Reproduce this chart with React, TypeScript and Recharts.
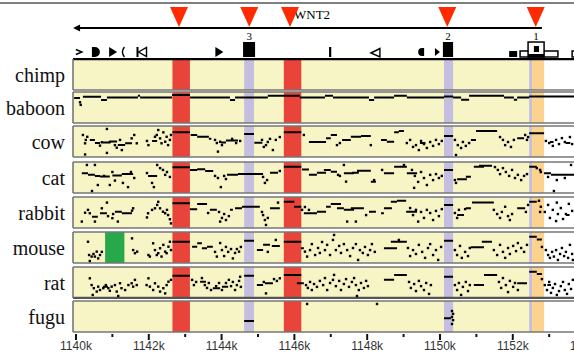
import React from 'react';
import { ComposedChart, XAxis, YAxis, Scatter, Line, ReferenceArea, ReferenceLine } from 'recharts';

// ===================== DATA =====================
const TRACK_NAMES = ['chimp', 'baboon', 'cow', 'cat', 'rabbit', 'mouse', 'rat', 'fugu'];

const GENE_NAME = 'WNT2';
const GENE_START = 1139.92;
const GENE_END = 1152.8;
const GENE_LABEL_X = 1145.99;

const ALIGNED_REGION: [number, number] = [1139.92, 1152.86];

const MUTATION_SITES = [1142.83, 1144.76, 1145.88, 1150.2, 1152.63];

const BANDS = [
  { x1: 1142.65, x2: 1143.13, kind: 'red' },
  { x1: 1144.62, x2: 1144.89, kind: 'lav' },
  { x1: 1145.71, x2: 1146.19, kind: 'red' },
  { x1: 1150.11, x2: 1150.36, kind: 'lav' },
  { x1: 1152.45, x2: 1152.53, kind: 'lav' },
  { x1: 1152.53, x2: 1152.86, kind: 'orange' },
];
const MOUSE_BAND = { x1: 1140.8, x2: 1141.33, kind: 'green' };

const EXON_LABELS = [
  { x: 1144.76, label: '3' },
  { x: 1150.22, label: '2' },
  { x: 1152.64, label: '1' },
];
const EXON_BOXES = [
  { x1: 1144.59, x2: 1144.92, level: 'tall', fill: 'black' },
  { x1: 1150.08, x2: 1150.36, level: 'tall', fill: 'black' },
  { x1: 1151.9, x2: 1152.12, level: 'low', fill: 'black' },
  { x1: 1152.2, x2: 1153.24, level: 'low', fill: 'white' },
  { x1: 1152.42, x2: 1152.86, level: 'tall', fill: 'white' },
  { x1: 1152.42, x2: 1152.86, level: 'base', fill: 'black' },
  { x1: 1152.58, x2: 1152.72, level: 'inner', fill: 'black' },
  { x1: 1153.63, x2: 1153.85, level: 'low', fill: 'white' },
];

const REPEATS = [
  { x: 1140.08, kind: 'chevron' },
  { x: 1140.52, kind: 'halfRight' },
  { x: 1141.02, kind: 'triRight' },
  { x: 1141.29, kind: 'paren' },
  { x: 1141.8, kind: 'barTriLeft' },
  { x: 1143.94, kind: 'triRight' },
  { x: 1146.98, kind: 'bar' },
  { x: 1148.24, kind: 'openTriLeft' },
  { x: 1149.51, kind: 'halfLeft' },
  { x: 1149.93, kind: 'triRightSmall' },
];

const X_TICKS = [1140, 1141, 1142, 1143, 1144, 1145, 1146, 1147, 1148, 1149, 1150, 1151, 1152, 1153, 1154, 1155];

// conservation segments [start kb, end kb, score] and single points [kb, score]
const CHIMP_SEGS: number[][] = [];
const CHIMP_DOTS: number[][] = [];

const BABOON_SEGS = [
  [1139.95, 1140.11, 0.88], [1140.19, 1140.69, 0.93], [1140.69, 1140.85, 0.81], [1140.85, 1141.7, 0.9],
  [1141.7, 1141.76, 0.97], [1141.76, 1142.64, 0.9], [1142.64, 1143.13, 1.0], [1143.13, 1144.23, 0.9],
  [1144.23, 1144.37, 0.81], [1144.37, 1145.27, 0.9], [1145.27, 1146.15, 0.97], [1146.15, 1146.84, 0.9],
  [1146.84, 1147.06, 0.97], [1147.06, 1148.05, 0.9], [1148.05, 1148.19, 0.81], [1148.19, 1148.74, 0.9],
  [1148.74, 1149.09, 0.97], [1149.09, 1150.11, 0.9], [1150.11, 1150.36, 0.94], [1150.36, 1150.58, 0.9],
  [1150.58, 1150.8, 0.82], [1150.8, 1151.76, 0.97], [1151.76, 1152.03, 0.9], [1152.03, 1152.12, 0.82],
  [1152.12, 1152.45, 0.9], [1152.45, 1153.75, 0.94],
];
const BABOON_DOTS = [[1140.11, 0.72], [1140.13, 0.62]];

const COW_SEGS = [
  [1140.38, 1140.52, 0.58], [1140.52, 1140.66, 0.46], [1140.74, 1140.93, 0.48], [1140.93, 1141.13, 0.52],
  [1141.15, 1141.35, 0.38], [1141.35, 1141.54, 0.45], [1142.09, 1142.23, 0.54], [1142.65, 1143.13, 0.87],
  [1143.15, 1143.33, 0.77], [1143.33, 1143.65, 0.7], [1143.65, 1143.72, 0.62], [1143.98, 1144.12, 0.48],
  [1144.12, 1144.45, 0.56], [1144.62, 1144.89, 0.81], [1144.9, 1145.12, 0.47], [1145.71, 1146.19, 0.87],
  [1146.4, 1146.87, 0.5], [1146.87, 1147.0, 0.64], [1147.0, 1147.17, 0.77], [1147.31, 1147.55, 0.58],
  [1147.55, 1147.83, 0.7], [1147.83, 1148.1, 0.73], [1148.38, 1148.54, 0.58], [1148.54, 1148.74, 0.51],
  [1148.74, 1148.87, 0.87], [1148.87, 1149.01, 0.92], [1149.45, 1149.6, 0.46], [1150.11, 1150.36, 0.73],
  [1150.85, 1150.99, 0.58], [1150.99, 1151.57, 0.92], [1152.12, 1152.31, 0.64], [1152.45, 1152.86, 0.84],
  [1153.02, 1153.12, 0.5], [1153.45, 1153.58, 0.46],
];
const COW_DOTS = [
  [1140.19, 0.77], [1140.25, 0.45], [1140.27, 0.58], [1140.31, 0.7], [1140.25, 0.02], [1140.66, 0.36],
  [1140.71, 0.49], [1140.85, 1.0], [1140.85, 0.08], [1140.93, 0.5], [1141.07, 0.38], [1141.12, 0.28],
  [1141.21, 0.58], [1141.26, 0.19], [1141.53, 0.64], [1141.6, 0.77], [1141.67, 0.45],
  [1141.95, 0.54], [1141.99, 0.38], [1142.17, 0.7], [1142.22, 0.77], [1142.26, 0.96], [1142.31, 0.64],
  [1142.35, 0.45], [1142.4, 0.87], [1142.45, 0.51], [1142.49, 0.7], [1142.53, 0.38], [1142.58, 0.58],
  [1142.61, 0.77], [1143.82, 0.58], [1143.87, 0.46], [1143.9, 0.13], [1143.96, 0.51], [1144.01, 0.38],
  [1144.29, 0.62], [1144.4, 0.46], [1144.51, 0.54], [1145.11, 0.58], [1145.16, 0.31], [1145.22, 0.38],
  [1145.27, 0.5], [1145.33, 0.62], [1145.41, 0.19], [1145.49, 0.58], [1145.6, 0.69], [1146.26, 0.77],
  [1147.17, 0.38], [1147.25, 0.46], [1148.1, 0.38], [1149.09, 0.46], [1149.18, 0.58], [1149.26, 0.31],
  [1149.34, 0.38], [1149.42, 0.19], [1149.48, 0.54], [1149.56, 0.42], [1149.64, 0.27], [1149.73, 0.5],
  [1149.81, 0.35], [1149.89, 0.58], [1149.97, 0.42], [1150.05, 0.54], [1150.41, 0.58], [1150.44, 0.0],
  [1150.49, 0.38], [1150.58, 0.27], [1150.63, 0.5], [1150.71, 0.35], [1150.8, 0.46], [1151.65, 0.69],
  [1151.73, 0.58], [1151.79, 0.38], [1151.87, 0.5], [1151.95, 0.31], [1152.03, 0.58], [1152.34, 0.77],
  [1152.39, 0.58], [1152.42, 0.69], [1152.91, 0.54], [1153.0, 0.46], [1153.1, 0.35], [1153.19, 0.58],
  [1153.27, 0.42], [1153.35, 0.65], [1153.43, 0.5], [1153.57, 0.69], [1153.63, 0.42],
];

const CAT_SEGS = [
  [1140.16, 1140.33, 0.68], [1140.33, 1140.52, 0.62], [1140.52, 1140.66, 0.58], [1140.66, 1140.93, 0.56],
  [1141.0, 1141.26, 0.6], [1141.26, 1141.57, 0.65], [1141.98, 1142.23, 0.58], [1142.65, 1143.13, 0.91],
  [1143.13, 1143.33, 0.81], [1143.33, 1143.55, 0.84], [1143.55, 1143.77, 0.77], [1144.15, 1144.45, 0.62],
  [1144.45, 1145.14, 0.65], [1145.33, 1145.55, 0.7], [1145.71, 1146.19, 0.93], [1146.21, 1146.4, 0.83],
  [1146.4, 1146.62, 0.62], [1146.62, 1146.87, 0.7], [1146.81, 1147.0, 0.81], [1147.0, 1147.17, 0.74],
  [1147.36, 1147.64, 0.68], [1147.58, 1147.77, 0.7], [1147.72, 1148.1, 0.78], [1148.1, 1148.24, 0.36],
  [1148.46, 1148.74, 0.68], [1148.74, 1149.09, 0.93], [1149.09, 1149.37, 0.68], [1150.11, 1150.36, 0.81],
  [1150.47, 1150.74, 0.45], [1150.71, 1150.85, 0.55], [1150.93, 1151.21, 0.93], [1151.07, 1151.43, 0.97],
  [1152.45, 1152.66, 0.93], [1152.86, 1153.05, 0.68], [1153.05, 1153.32, 0.62], [1153.32, 1153.75, 0.62],
];
const CAT_DOTS = [
  [1140.3, 1.0], [1140.52, 1.0], [1140.44, 0.0], [1140.6, 0.23], [1140.77, 0.58], [1140.93, 0.23],
  [1141.07, 0.4], [1141.0, 0.73], [1141.29, 0.31], [1141.43, 0.15], [1141.51, 0.73], [1141.6, 0.5],
  [1141.95, 0.69], [1142.23, 1.0], [1142.31, 0.88], [1142.39, 0.81], [1142.45, 0.62], [1142.5, 0.73],
  [1142.58, 0.54], [1142.09, 0.31], [1142.14, 0.15], [1143.82, 0.58], [1143.9, 0.5], [1143.98, 0.15],
  [1144.07, 0.58], [1144.12, 0.46], [1145.14, 0.54], [1145.19, 0.31], [1145.25, 0.42], [1145.6, 0.77],
  [1147.2, 0.62], [1147.25, 0.58], [1147.36, 1.0], [1147.42, 0.36], [1148.19, 0.42], [1148.41, 0.81],
  [1149.01, 1.0], [1149.23, 0.81], [1149.31, 0.58], [1149.4, 0.35], [1149.48, 0.73], [1149.56, 0.5],
  [1149.64, 0.23], [1149.73, 0.62], [1149.81, 0.42], [1149.89, 0.65], [1149.97, 0.5], [1149.29, 0.12],
  [1150.05, 0.58], [1150.41, 0.42], [1150.44, 0.31], [1151.51, 0.92], [1151.59, 0.81], [1151.65, 0.65],
  [1151.73, 0.88], [1151.81, 0.73], [1151.9, 0.58], [1151.98, 0.81], [1152.06, 0.5], [1152.14, 0.62],
  [1152.23, 0.42], [1152.31, 0.58], [1152.39, 0.65], [1152.66, 0.88], [1152.75, 0.81], [1152.77, 0.73],
  [1153.21, 0.42], [1153.13, 0.0], [1153.6, 1.0], [1153.43, 0.5], [1152.97, 0.54],
];

const RABBIT_SEGS = [
  [1140.44, 1140.6, 0.36], [1140.66, 1140.85, 0.49], [1141.07, 1141.26, 0.55], [1141.26, 1141.54, 0.49],
  [1142.65, 1143.13, 0.87], [1143.13, 1143.33, 0.64], [1143.33, 1143.6, 0.85], [1143.68, 1143.87, 0.62],
  [1144.23, 1144.31, 0.62], [1144.37, 1144.56, 0.68], [1144.56, 1145.05, 0.74], [1145.33, 1145.6, 0.68],
  [1145.71, 1146.0, 0.93], [1145.99, 1146.19, 0.74], [1146.26, 1146.62, 0.49], [1146.62, 1146.87, 0.55],
  [1146.87, 1147.0, 0.74], [1147.0, 1147.28, 0.85], [1147.17, 1147.36, 0.68], [1147.36, 1147.64, 0.62],
  [1147.55, 1147.91, 0.68], [1148.05, 1148.24, 0.55], [1148.38, 1148.46, 0.49], [1148.46, 1148.68, 0.68],
  [1148.65, 1148.82, 0.93], [1148.82, 1149.07, 0.97], [1149.07, 1149.37, 0.55], [1150.11, 1150.36, 0.81],
  [1150.47, 1150.66, 0.42], [1150.71, 1150.85, 0.68], [1150.88, 1151.48, 0.9], [1152.12, 1152.34, 0.68],
  [1152.45, 1152.66, 0.93], [1153.46, 1153.56, 0.42],
];
const RABBIT_DOTS = [
  [1140.16, 0.17], [1140.25, 0.51], [1140.33, 0.62], [1140.38, 0.49], [1140.52, 0.17], [1140.71, 0.68],
  [1140.85, 0.9], [1140.88, 0.38], [1141.0, 0.3], [1141.02, 0.46], [1141.15, 0.17], [1141.54, 0.59],
  [1141.57, 0.68], [1141.95, 0.33], [1141.98, 0.49], [1142.09, 0.62], [1142.17, 0.68], [1142.23, 0.81],
  [1142.26, 0.93], [1142.31, 0.68], [1142.39, 0.55], [1142.45, 0.49], [1142.5, 0.62], [1142.53, 0.42],
  [1142.58, 0.26], [1142.61, 0.1], [1143.63, 0.5], [1143.93, 0.54], [1144.01, 0.31], [1143.96, 0.17],
  [1144.07, 0.46], [1144.12, 0.23], [1144.2, 0.38], [1145.11, 0.54], [1145.14, 0.42], [1145.19, 0.23],
  [1145.22, 0.04], [1145.27, 0.31], [1145.55, 0.9], [1146.21, 0.62], [1146.29, 0.73], [1146.4, 0.62],
  [1147.45, 0.17], [1147.69, 0.17], [1147.97, 0.42], [1149.18, 0.69], [1149.26, 0.42], [1149.34, 0.62],
  [1149.4, 0.17], [1149.48, 0.54], [1149.56, 0.31], [1149.64, 0.62], [1149.73, 0.5], [1149.81, 0.23],
  [1149.89, 0.58], [1149.97, 0.38], [1150.05, 0.65], [1150.41, 0.5], [1150.47, 0.31], [1150.52, 0.62],
  [1150.69, 0.65], [1151.48, 0.62], [1151.57, 0.46], [1151.65, 0.31], [1151.7, 0.54], [1151.79, 0.74],
  [1151.87, 0.38], [1151.92, 0.23], [1151.98, 0.46], [1152.36, 0.54], [1152.42, 0.81], [1152.72, 0.97],
  [1152.77, 0.74], [1152.75, 0.54], [1152.88, 0.54], [1152.97, 0.81], [1153.02, 0.31], [1153.1, 0.62],
  [1153.19, 0.19], [1153.24, 0.46], [1153.32, 0.69], [1153.38, 0.27], [1153.46, 0.46], [1153.54, 0.85],
  [1153.63, 0.58], [1153.21, 0.9],
];

const MOUSE_SEGS = [
  [1142.65, 1143.13, 0.74], [1143.19, 1143.33, 0.55], [1143.33, 1143.46, 0.68], [1143.46, 1143.6, 0.49],
  [1143.6, 1143.76, 0.55], [1144.62, 1144.89, 0.78], [1144.97, 1145.14, 0.42], [1145.14, 1145.33, 0.62],
  [1145.38, 1145.6, 0.58], [1145.71, 1146.19, 0.74], [1146.18, 1146.26, 0.49], [1148.46, 1148.82, 0.49],
  [1148.65, 1149.09, 0.74], [1150.11, 1150.36, 0.78], [1150.85, 1151.21, 0.53], [1151.15, 1151.43, 0.74],
  [1152.45, 1152.66, 0.93], [1152.66, 1152.8, 0.83],
];
const MOUSE_DOTS = [
  [1140.33, 0.74], [1140.36, 0.23], [1140.43, 0.17], [1140.48, 0.27], [1140.52, 0.17], [1140.57, 0.36],
  [1140.61, 0.1], [1140.66, 0.23], [1140.38, 0.0], [1140.71, 0.35], [1141.54, 0.87], [1141.57, 0.42],
  [1141.62, 0.3], [1141.68, 0.36], [1141.99, 0.23], [1142.03, 0.17], [1142.12, 0.68], [1142.17, 0.42],
  [1142.22, 0.23], [1142.26, 0.3], [1142.31, 0.49], [1142.35, 0.17], [1142.4, 0.62], [1142.45, 0.36],
  [1142.49, 0.3], [1142.54, 0.55], [1142.58, 0.74], [1142.61, 0.42], [1143.82, 0.35], [1143.87, 0.17],
  [1143.96, 0.69], [1144.01, 0.42], [1144.07, 0.19], [1144.12, 0.54], [1144.18, 0.35], [1144.26, 0.46],
  [1144.31, 0.1], [1144.37, 0.31], [1144.42, 0.46], [1144.48, 0.36], [1144.53, 0.54], [1145.27, 0.35],
  [1145.49, 0.81], [1146.29, 0.36], [1146.35, 0.17], [1146.43, 0.42], [1146.48, 0.65], [1146.57, 0.23],
  [1146.65, 0.5], [1146.7, 0.31], [1146.76, 0.73], [1146.84, 0.42], [1146.9, 0.62], [1146.98, 0.23],
  [1147.06, 0.81], [1147.09, 1.0], [1147.14, 0.42], [1147.23, 0.58], [1147.28, 0.31], [1147.36, 0.65],
  [1147.45, 0.42], [1147.53, 0.19], [1147.61, 0.5], [1147.69, 0.65], [1147.75, 0.04], [1147.8, 0.42],
  [1147.88, 0.31], [1147.94, 0.54], [1148.02, 0.23], [1148.08, 0.42], [1148.13, 0.65], [1148.21, 0.35],
  [1148.87, 0.81], [1149.12, 0.5], [1149.18, 0.19], [1149.26, 0.42], [1149.34, 0.27], [1149.42, 0.62],
  [1149.51, 0.35], [1149.59, 0.12], [1149.67, 0.5], [1149.73, 0.65], [1149.81, 0.23], [1149.89, 0.42],
  [1149.95, 0.04], [1150.03, 0.54], [1150.41, 0.42], [1150.47, 0.23], [1150.55, 0.58], [1150.6, 0.12],
  [1150.69, 0.35], [1150.77, 0.19], [1150.82, 0.5], [1151.48, 0.42], [1151.57, 0.23], [1151.65, 0.62],
  [1151.73, 0.35], [1151.79, 0.12], [1151.87, 0.5], [1151.92, 0.27], [1152.01, 0.58], [1152.09, 0.38],
  [1152.14, 0.69], [1152.23, 0.5], [1152.31, 0.35], [1152.39, 0.62], [1152.8, 0.54], [1152.91, 0.42],
  [1152.97, 0.23], [1153.02, 0.12], [1153.08, 0.35], [1153.13, 0.17], [1153.19, 0.42], [1153.24, 0.04],
  [1153.3, 0.27], [1153.35, 0.5], [1153.41, 0.19], [1153.46, 0.35], [1153.52, 0.12], [1153.57, 0.62],
  [1153.63, 0.27], [1153.65, 0.04],
];

const RAT_SEGS = [
  [1140.74, 1140.88, 0.36], [1142.65, 1143.13, 0.78], [1143.41, 1143.57, 0.55], [1143.76, 1143.96, 0.3],
  [1144.01, 1144.18, 0.36], [1144.62, 1144.89, 0.78], [1144.97, 1145.14, 0.42], [1145.19, 1145.41, 0.49],
  [1145.71, 1146.19, 0.81], [1146.07, 1146.26, 0.49], [1148.46, 1148.74, 0.62], [1148.74, 1149.09, 0.81],
  [1150.11, 1150.36, 0.74], [1150.93, 1151.21, 0.42], [1151.21, 1151.57, 0.81], [1152.12, 1152.39, 0.49],
  [1152.45, 1152.66, 0.93], [1152.66, 1152.8, 0.85], [1152.95, 1153.05, 0.42],
];
const RAT_DOTS = [
  [1140.38, 0.68], [1140.43, 0.42], [1140.46, 0.04], [1140.49, 0.3], [1140.57, 0.17], [1140.61, 0.36],
  [1140.66, 0.23], [1140.75, 0.3], [1140.82, 0.42], [1140.89, 0.3], [1140.93, 0.2], [1140.98, 0.36],
  [1141.07, 0.42], [1141.12, 0.17], [1141.16, 0.0], [1141.21, 0.49], [1141.25, 0.3], [1141.35, 0.23],
  [1141.44, 0.42], [1141.53, 0.49], [1141.57, 0.36], [1141.62, 0.62], [1141.67, 0.42], [1141.94, 0.42],
  [1141.99, 0.68], [1142.03, 0.36], [1142.12, 0.23], [1142.17, 0.49], [1142.26, 0.36], [1142.31, 0.17],
  [1142.4, 0.3], [1142.45, 0.1], [1142.49, 0.42], [1142.54, 0.55], [1142.61, 0.62], [1143.19, 0.62],
  [1143.24, 0.42], [1143.3, 0.54], [1143.46, 0.69], [1143.54, 0.42], [1143.6, 0.31], [1143.65, 0.5],
  [1143.71, 0.23], [1143.85, 0.38], [1143.93, 0.5], [1144.01, 0.23], [1144.12, 0.5], [1144.2, 0.62],
  [1144.26, 0.38], [1144.31, 0.54], [1144.37, 0.23], [1144.42, 0.42], [1144.48, 0.58], [1144.53, 0.35],
  [1144.51, 0.74], [1145.16, 0.54], [1145.22, 0.1], [1145.44, 0.65], [1145.52, 0.58], [1145.6, 0.68],
  [1146.32, 0.42], [1146.37, 0.31], [1146.43, 0.54], [1146.48, 0.23], [1146.54, 0.46], [1146.62, 0.35],
  [1146.7, 0.58], [1146.79, 0.42], [1146.84, 0.69], [1146.9, 0.23], [1146.98, 0.5], [1147.06, 0.62],
  [1147.09, 0.81], [1147.14, 0.38], [1147.23, 0.58], [1147.28, 0.23], [1147.36, 0.46], [1147.42, 0.65],
  [1147.5, 0.35], [1147.58, 0.54], [1147.64, 0.69], [1147.69, 0.42], [1147.77, 0.23], [1147.83, 0.5],
  [1147.72, 0.0], [1147.91, 0.31], [1147.97, 0.58], [1148.02, 0.38], [1149.15, 0.54], [1149.2, 0.31],
  [1149.29, 0.46], [1149.34, 0.19], [1149.42, 0.58], [1149.48, 0.38], [1149.56, 0.23], [1149.62, 0.5],
  [1149.7, 0.08], [1149.75, 0.42], [1150.41, 0.42], [1150.47, 0.23], [1150.52, 0.5], [1150.58, 0.04],
  [1150.63, 0.35], [1150.71, 0.54], [1150.77, 0.19], [1150.82, 0.42], [1151.62, 0.54], [1151.68, 0.31],
  [1151.73, 0.69], [1151.81, 0.42], [1151.87, 0.15], [1151.92, 0.58], [1152.01, 0.35], [1152.06, 0.5],
  [1152.14, 0.23], [1152.8, 0.65], [1152.88, 0.42], [1152.94, 0.23], [1153.0, 0.54], [1153.05, 0.12],
  [1153.1, 0.31], [1153.16, 0.46], [1153.21, 0.04], [1153.27, 0.19], [1153.32, 0.38], [1153.38, 0.54],
  [1153.43, 0.23], [1153.49, 0.08], [1153.54, 0.46], [1153.6, 0.27], [1153.65, 0.62],
];

const FUGU_SEGS = [[1144.62, 1144.89, 0.35], [1150.11, 1150.3, 0.45]];
const FUGU_DOTS = [
  [1150.33, 0.73], [1150.36, 0.62], [1150.33, 0.5], [1150.36, 0.38], [1150.33, 0.23],
  [1146.35, 1.0], [1148.27, 1.0],
];

const TRACK_SEGS = [CHIMP_SEGS, BABOON_SEGS, COW_SEGS, CAT_SEGS, RABBIT_SEGS, MOUSE_SEGS, RAT_SEGS, FUGU_SEGS];
const TRACK_DOTS = [CHIMP_DOTS, BABOON_DOTS, COW_DOTS, CAT_DOTS, RABBIT_DOTS, MOUSE_DOTS, RAT_DOTS, FUGU_DOTS];

// ===================== LAYOUT & STYLE =====================
const CHART_W = 640; // clipped at 574 by the frame
const PLOT_LEFT = 73;
const X_DOMAIN: [number, number] = [1139.918, 1155.495];
const Y_DOMAIN: [number, number] = [-0.077, 1.115];
const LABEL_TICK = 0.519;
const TRACK_TOPS = [59, 92, 126, 162, 197, 232, 267, 301];
const PANEL_H = 33;
const AXIS_H = 26;
const HEADER_H = 62;
const HEADER_ROWS = { rule: 3, marker: 17, name: 19, gene: 28, exonNum: 40, tallTop: 42, lowTop: 51, innerTop: 46, innerBottom: 52, baseTop: 54, bottom: 57, repeat: 52 };

const COLORS: Record<string, string> = {
  red: '#e8443a',
  lav: '#c4bfe1',
  orange: '#fbd38f',
  green: '#27a94b',
  yellow: '#f7f4c6',
  border: '#767676',
  marker: '#ff2a00',
};

const SERIF = '"Liberation Serif", "Times New Roman", serif';
const SANS = '"Liberation Sans", Arial, sans-serif';

const DotShape = (p: any) => (
  <rect x={p.cx - 1.2} y={p.cy - 1.2} width={2.4} height={2.4} fill="#000" />
);

const MarkerShape = (p: any) => (
  <polygon
    points={`${p.cx - 9},${p.cy - 10} ${p.cx + 9},${p.cy - 10} ${p.cx},${p.cy + 10}`}
    fill={COLORS.marker}
  />
);

const ArrowShape = (p: any) => (
  <polygon points={`${p.cx},${p.cy} ${p.cx + 7},${p.cy - 3.5} ${p.cx + 7},${p.cy + 3.5}`} fill="#000" />
);

const TextShape = (size: number) => (p: any) => (
  <text x={p.cx} y={p.cy} fontSize={size} fontFamily={SERIF} fill="#000" textAnchor={p.payload.anchor}>
    {p.payload.label}
  </text>
);

const RepeatShape = (p: any) => {
  const { cx, cy } = p;
  switch (p.payload.kind) {
    case 'chevron':
      return <polyline points={`${cx - 3},${cy - 2.5} ${cx + 3},${cy} ${cx - 3},${cy + 2.5}`} fill="none" stroke="#000" strokeWidth={1.4} />;
    case 'halfRight':
      return <path d={`M${cx - 3},${cy - 5} L${cx},${cy - 5} A5,5 0 0 1 ${cx},${cy + 5} L${cx - 3},${cy + 5} Z`} fill="#000" />;
    case 'halfLeft':
      return <path d={`M${cx + 2},${cy - 4} L${cx},${cy - 4} A4,4 0 0 0 ${cx},${cy + 4} L${cx + 2},${cy + 4} Z`} fill="#000" />;
    case 'triRight':
      return <polygon points={`${cx - 4},${cy - 5} ${cx + 4},${cy} ${cx - 4},${cy + 5}`} fill="#000" />;
    case 'triRightSmall':
      return <polygon points={`${cx - 2.5},${cy - 4} ${cx + 2.5},${cy} ${cx - 2.5},${cy + 4}`} fill="#000" />;
    case 'paren':
      return <path d={`M${cx + 1.5},${cy - 5} Q${cx - 2.5},${cy} ${cx + 1.5},${cy + 5}`} fill="none" stroke="#000" strokeWidth={1.4} />;
    case 'barTriLeft':
      return (
        <g>
          <rect x={cx - 5} y={cy - 5} width={2} height={10} fill="#000" />
          <polygon points={`${cx - 3},${cy} ${cx + 5},${cy - 4.5} ${cx + 5},${cy + 4.5}`} fill="none" stroke="#000" strokeWidth={1.4} />
        </g>
      );
    case 'bar':
      return <rect x={cx - 1} y={cy - 5} width={2.2} height={10} fill="#000" />;
    case 'openTriLeft':
      return <polygon points={`${cx - 5},${cy + 1} ${cx + 4},${cy - 3.5} ${cx + 4},${cy + 5}`} fill="none" stroke="#000" strokeWidth={1.4} />;
    default:
      return <g />;
  }
};

const AxisTick = (p: any) => {
  const v = p.payload.value;
  const major = v % 2 === 0;
  return (
    <g>
      <line x1={p.x} x2={p.x} y1={p.y + 2} y2={p.y + (major ? 8 : 5)} stroke="#111" strokeWidth={2} />
      {major && (
        <text x={p.x} y={p.y + 18} textAnchor="middle" fontSize={12} fontFamily={SANS} fill="#333">
          {`${v}k`}
        </text>
      )}
    </g>
  );
};

const boxY = (level: string): [number, number] => {
  const r = HEADER_ROWS;
  if (level === 'tall') return [r.tallTop, r.bottom];
  if (level === 'low') return [r.lowTop, r.bottom];
  if (level === 'base') return [r.baseTop, r.bottom];
  return [r.innerTop, r.innerBottom];
};

function Header() {
  const r = HEADER_ROWS;
  return (
    <div style={{ position: 'absolute', left: 0, top: 0 }}>
      <ComposedChart width={CHART_W} height={HEADER_H} margin={{ top: 0, right: 0, bottom: 0, left: PLOT_LEFT }}>
        <XAxis type="number" dataKey="x" domain={X_DOMAIN} allowDataOverflow hide />
        <YAxis type="number" dataKey="y" domain={[0, HEADER_H]} reversed allowDataOverflow hide />
        <ReferenceLine
          segment={[{ x: X_DOMAIN[0] - 2.2, y: r.rule }, { x: X_DOMAIN[1], y: r.rule }]}
          stroke="#555"
          strokeWidth={1.5}
          ifOverflow="visible"
        />
        <ReferenceLine
          segment={[{ x: GENE_START + 0.15, y: r.gene }, { x: GENE_END, y: r.gene }]}
          stroke="#000"
          strokeWidth={2}
        />
        {EXON_BOXES.map((b, i) => {
          const [y1, y2] = boxY(b.level);
          return (
            <ReferenceArea
              key={i}
              x1={b.x1}
              x2={b.x2}
              y1={y1}
              y2={y2}
              fill={b.fill === 'black' ? '#000' : '#fff'}
              fillOpacity={1}
              stroke="#000"
              strokeWidth={b.fill === 'black' ? 0 : 1.5}
              ifOverflow="visible"
            />
          );
        })}
        <Scatter data={[{ x: GENE_START, y: r.gene }]} shape={ArrowShape} isAnimationActive={false} />
        <Scatter
          data={[{ x: GENE_LABEL_X, y: r.name, label: GENE_NAME, anchor: 'start' }]}
          shape={TextShape(13)}
          isAnimationActive={false}
        />
        <Scatter
          data={EXON_LABELS.map((e) => ({ x: e.x, y: r.exonNum, label: e.label, anchor: 'middle' }))}
          shape={TextShape(11)}
          isAnimationActive={false}
        />
        <Scatter data={REPEATS.map((d) => ({ x: d.x, y: r.repeat, kind: d.kind }))} shape={RepeatShape} isAnimationActive={false} />
        <Scatter data={MUTATION_SITES.map((x) => ({ x, y: r.marker }))} shape={MarkerShape} isAnimationActive={false} />
      </ComposedChart>
    </div>
  );
}

function Track({ index }: { index: number }) {
  const name = TRACK_NAMES[index];
  const last = index === TRACK_NAMES.length - 1;
  const first = index === 0;
  const beforeLast = index === TRACK_NAMES.length - 2;
  const lineData = TRACK_SEGS[index].flatMap(([a, b, s]) => [
    { x: a, y: s },
    { x: b, y: s },
    { x: b, y: null },
  ]);
  const dotData = TRACK_DOTS[index].map(([x, y]) => ({ x, y }));
  const bands = name === 'mouse' ? [...BANDS, MOUSE_BAND] : BANDS;
  return (
    <div style={{ position: 'absolute', left: 0, top: TRACK_TOPS[index] - 1 }}>
      <ComposedChart
        width={CHART_W}
        height={PANEL_H + (last ? AXIS_H - 1 : 0)}
        margin={{ top: 1, right: 0, bottom: last ? 0 : 1, left: 0 }}
      >
        <XAxis
          type="number"
          dataKey="x"
          domain={X_DOMAIN}
          allowDataOverflow
          hide={!last}
          ticks={X_TICKS}
          interval={0}
          tick={AxisTick}
          tickSize={0}
          tickMargin={0}
          tickLine={false}
          axisLine={false}
          height={AXIS_H}
        />
        <YAxis
          type="number"
          dataKey="y"
          domain={Y_DOMAIN}
          allowDataOverflow
          width={PLOT_LEFT}
          ticks={[LABEL_TICK]}
          interval={0}
          tickFormatter={() => name}
          axisLine={false}
          tickLine={false}
          tick={{ fontSize: 20, fontFamily: SERIF, fill: '#111' }}
        />
        <ReferenceArea x1={ALIGNED_REGION[0]} x2={ALIGNED_REGION[1]} fill={COLORS.yellow} fillOpacity={1} />
        {bands.map((b, i) => (
          <ReferenceArea key={i} x1={b.x1} x2={b.x2} fill={COLORS[b.kind]} fillOpacity={1} />
        ))}
        <ReferenceLine y={Y_DOMAIN[1]} stroke={first ? '#000' : COLORS.border} strokeWidth={first ? 2.5 : 1.6} />
        <ReferenceLine
          y={Y_DOMAIN[0]}
          stroke={beforeLast ? '#555' : COLORS.border}
          strokeWidth={beforeLast ? 2.6 : 1.6}
        />
        <ReferenceLine x={X_DOMAIN[0]} stroke={COLORS.border} strokeWidth={1.6} />
        <Line
          data={lineData}
          dataKey="y"
          type="linear"
          stroke="#000"
          strokeWidth={2}
          dot={false}
          activeDot={false}
          connectNulls={false}
          isAnimationActive={false}
        />
        <Scatter data={dotData} shape={DotShape} isAnimationActive={false} />
      </ComposedChart>
    </div>
  );
}

export default function App() {
  return (
    <div style={{ position: 'absolute', left: 0, top: 0, width: 574, height: 358, overflow: 'hidden', background: '#fff' }}>
      <Header />
      {TRACK_NAMES.map((n, i) => (
        <Track key={n} index={i} />
      ))}
    </div>
  );
}
